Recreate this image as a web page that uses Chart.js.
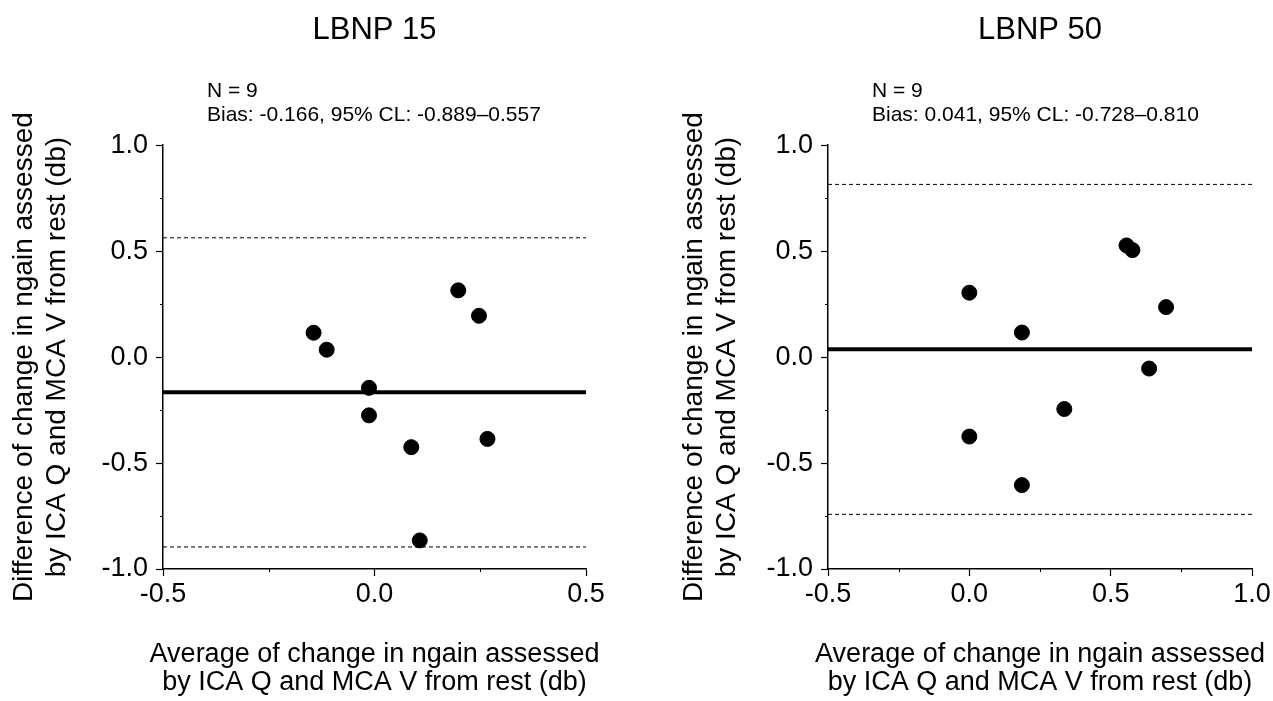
<!DOCTYPE html>
<html>
<head>
<meta charset="utf-8">
<script src="https://cdn.jsdelivr.net/npm/chart.js@4.4.1/dist/chart.umd.min.js"></script>
<style>
    body { margin: 0; background: #fff; }
    #wrap { position: relative; width: 1273px; height: 701px; }
    canvas { position: absolute; top: 0; }
    #lbnp15 { left: 0; }
    #lbnp50 { left: 636px; }
</style>
</head>
<body>
<div id="wrap">
    <canvas id="lbnp15" width="636" height="701"></canvas>
    <canvas id="lbnp50" width="637" height="701"></canvas>
</div>
<script>
// LBNP 15 panel
const avg15   = [-0.144, -0.113, -0.013, -0.013, 0.087, 0.107, 0.198, 0.247, 0.267];
const diff15  = [0.115, 0.035, -0.145, -0.275, -0.425, -0.865, 0.315, 0.195, -0.386];
const bias15  = -0.166;
const loa15   = [0.563, -0.896];
const xRange15 = [-0.5, 0.5];
const note15  = ['N = 9', 'Bias: -0.166, 95% CL: -0.889\u20130.557'];

// LBNP 50 panel
const avg50   = [0.0, 0.0, 0.186, 0.186, 0.336, 0.556, 0.577, 0.636, 0.696];
const diff50  = [0.304, -0.375, 0.116, -0.604, -0.245, 0.527, 0.505, -0.054, 0.236];
const bias50  = 0.037;
const loa50   = [0.815, -0.742];
const xRange50 = [-0.5, 1.0];
const note50  = ['N = 9', 'Bias: 0.041, 95% CL: -0.728\u20130.810'];

const yRange = [-1.0, 1.0];
const xTitle = ['Average of change in ngain assessed', 'by ICA Q and MCA V from rest (db)'];
const yTitle = ['Difference of change in ngain assessed', 'by ICA Q and MCA V from rest (db)'];

const FONT = '"Liberation Sans", Arial, Helvetica, sans-serif';

// minor ticks, the N / Bias note and the x title (wider than the axis, so drawn here)
const panelExtras = {
    id: 'panelExtras',
    afterDraw(chart, args, opts) {
        const ctx = chart.ctx;
        const xs = chart.scales.x, ys = chart.scales.y;
        const area = chart.chartArea;
        ctx.save();
        ctx.strokeStyle = '#000';
        ctx.lineWidth = 1;
        for (let v = xs.min + 0.25; v < xs.max; v += 0.5) {
            const px = Math.round(xs.getPixelForValue(v)) + 0.5;
            ctx.beginPath();
            ctx.moveTo(px, xs.top);
            ctx.lineTo(px, xs.top + 3);
            ctx.stroke();
        }
        for (let v = ys.min + 0.25; v < ys.max; v += 0.5) {
            const py = Math.round(ys.getPixelForValue(v)) + 0.5;
            ctx.beginPath();
            ctx.moveTo(ys.right, py);
            ctx.lineTo(ys.right - 3, py);
            ctx.stroke();
        }
        ctx.fillStyle = '#000';

        ctx.font = '21px ' + FONT;
        ctx.textAlign = 'left';
        ctx.textBaseline = 'alphabetic';
        opts.lines.forEach((t, i) => {
            ctx.fillText(t, area.left + opts.offsetX, opts.baseY + i * 24);
        });

        ctx.font = '27px ' + FONT;
        ctx.textAlign = 'center';
        ctx.textBaseline = 'middle';
        const cx = (area.left + area.right) / 2;
        xTitle.forEach((t, i) => {
            ctx.fillText(t, cx, xs.bottom - 46 + i * 28);
        });
        ctx.restore();
    }
};

function makePanel(canvasId, cfg)
{
    const hLine = (y, width, dash) => ({
        type: 'line',
        data: [{x: cfg.xRange[0], y: y}, {x: cfg.xRange[1], y: y}],
        borderColor: '#000',
        borderWidth: width,
        borderDash: dash,
        pointRadius: 0,
        fill: false,
        order: 2
    });

    return new Chart(document.getElementById(canvasId), {
        type: 'scatter',
        data: {
            datasets: [
                {
                    data: cfg.avg.map((a, i) => ({x: a, y: cfg.diff[i]})),
                    backgroundColor: '#000',
                    borderColor: '#000',
                    pointRadius: 7.5,
                    pointHoverRadius: 7.5,
                    order: 1
                },
                hLine(cfg.bias, 4, []),
                hLine(cfg.loa[0], 1, [4, 3]),
                hLine(cfg.loa[1], 1, [4, 3])
            ]
        },
        options: {
            responsive: false,
            animation: false,
            events: [],
            layout: { padding: { left: 0, right: cfg.padRight, top: 0, bottom: 0 } },
            plugins: {
                legend: { display: false },
                tooltip: { enabled: false },
                title: {
                    display: true,
                    text: cfg.title,
                    fullSize: false,
                    color: '#000',
                    font: { family: FONT, size: 31, weight: 'normal', lineHeight: 1.2 },
                    padding: { top: 12, bottom: 96 }
                },
                panelExtras: { lines: cfg.note, offsetX: 44, baseY: 97 }
            },
            scales: {
                x: {
                    type: 'linear',
                    min: cfg.xRange[0],
                    max: cfg.xRange[1],
                    afterFit: (s) => { s.height = 132; },
                    border: { display: true, color: '#000', width: 1.5 },
                    grid: { drawOnChartArea: false, drawTicks: true, tickLength: 7, tickColor: '#000', tickWidth: 1.2 },
                    ticks: {
                        stepSize: 0.5,
                        color: '#000',
                        padding: 2,
                        maxRotation: 0,
                        font: { family: FONT, size: 27 },
                        callback: (v) => v.toFixed(1)
                    },
                    title: { display: false }
                },
                y: {
                    type: 'linear',
                    min: yRange[0],
                    max: yRange[1],
                    afterFit: (s) => { s.width = cfg.yWidth; },
                    border: { display: true, color: '#000', width: 1.5 },
                    grid: { drawOnChartArea: false, drawTicks: true, tickLength: 7, tickColor: '#000', tickWidth: 1.2 },
                    ticks: {
                        stepSize: 0.5,
                        color: '#000',
                        padding: 8,
                        font: { family: FONT, size: 27 },
                        callback: (v) => v.toFixed(1)
                    },
                    title: {
                        display: true,
                        text: yTitle,
                        color: '#000',
                        font: { family: FONT, size: 28, lineHeight: 1.18 },
                        padding: { top: cfg.yTitlePad, bottom: 0 }
                    }
                }
            }
        },
        plugins: [panelExtras]
    });
}

makePanel('lbnp15', {
    title: 'LBNP 15', avg: avg15, diff: diff15, bias: bias15, loa: loa15,
    xRange: xRange15, note: note15, yWidth: 163, padRight: 50, yTitlePad: 8
});

makePanel('lbnp50', {
    title: 'LBNP 50', avg: avg50, diff: diff50, bias: bias50, loa: loa50,
    xRange: xRange50, note: note50, yWidth: 192, padRight: 21, yTitlePad: 42
});
</script>
</body>
</html>
